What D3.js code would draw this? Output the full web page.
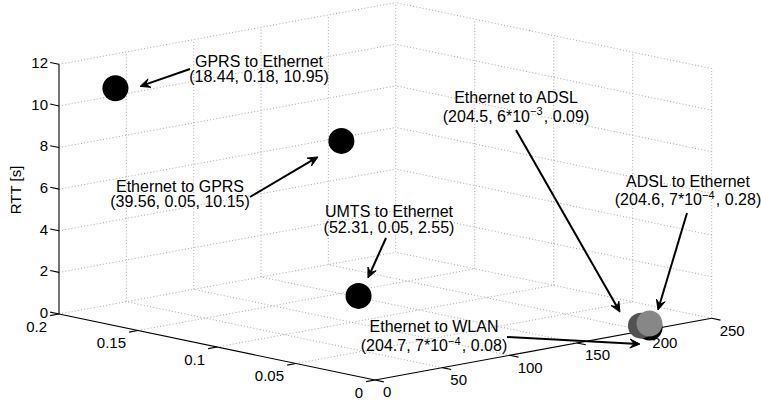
<!DOCTYPE html>
<html><head><meta charset="utf-8">
<script src="https://cdn.jsdelivr.net/npm/d3@7"></script>
<style>body{margin:0;background:#fff} text{font-family:"Liberation Sans",Arial,Helvetica,sans-serif;fill:#000}</style>
</head><body><svg id="c" width="761" height="403"></svg>
<script>
// ---- data ----
const xTicks = [0, 50, 100, 150, 200, 250];
const yTicks = [0, 0.05, 0.1, 0.15, 0.2];
const zTicks = [0, 2, 4, 6, 8, 10, 12];
const xTickLabels = ["0", "50", "100", "150", "200", "250"];
const yTickLabels = ["0", "0.05", "0.1", "0.15", "0.2"];
const zTickLabels = ["0", "2", "4", "6", "8", "10", "12"];
const zLabel = "RTT [s]";
const names = ["GPRS to Ethernet", "Ethernet to GPRS", "UMTS to Ethernet", "Ethernet to ADSL", "ADSL to Ethernet", "Ethernet to WLAN"];
const coordTexts = ["(18.44, 0.18, 10.95)", "(39.56, 0.05, 10.15)", "(52.31, 0.05, 2.55)", "(204.5, 6*10^{\u22123}, 0.09)", "(204.6, 7*10^{\u22124}, 0.28)", "(204.7, 7*10^{\u22124}, 0.08)"];
const xVals = [18.44, 39.56, 52.31, 204.5, 204.6, 204.7];
const yVals = [0.18, 0.055, 0.055, 0.006, 0.0007, 0.0007];
const zVals = [10.95, 10.15, 2.55, 0.09, 0.28, 0.08];
const markerColors = ["#000000", "#000000", "#000000", "#525252", "#878787", "#000000"];
const drawOrder = [5, 0, 1, 2, 3, 4];

// ---- layout ----
const O = [375, 380], EX = [336.7, -61.7], EY = [-316, -66], EZ = [0, -249.7];
const sx = d3.scaleLinear().domain([0, 250]).range([0, 1]);
const sy = d3.scaleLinear().domain([0, 0.2]).range([0, 1]);
const sz = d3.scaleLinear().domain([0, 12]).range([0, 1]);
function P(x, y, z) {
  const a = sx(x), b = sy(y), c = sz(z);
  return [O[0] + a * EX[0] + b * EY[0] + c * EZ[0], O[1] + a * EX[1] + b * EY[1] + c * EZ[1]];
}
function unit(v, s) { const l = Math.hypot(v[0], v[1]); return [v[0] / l * s, v[1] / l * s]; }
// annotation layout: text center x, baseline line1, baseline line2, arrow start, arrow tip offset from marker
const annot = [
  {cx: 259, b1: 66.5, b2: 82, from: [190, 69], off: [24.6, -1.8]},
  {cx: 180, b1: 191.5, b2: 207, from: [250, 197], off: [-23.4, 16]},
  {cx: 389, b1: 217, b2: 232.5, from: [386, 238], off: [9.4, -17.9]},
  {cx: 516, b1: 103, b2: 121.5, from: [516, 130], off: [-21, -13.6]},
  {cx: 688, b1: 187, b2: 205, from: [687, 213], off: [8.5, -13.4]},
  {cx: 434, b1: 332, b2: 351, from: [507, 337], off: [-9.6, 16.5]}
];

const svg = d3.select("#c");
const g = svg.append("g");
const line = (a, b) => g.append("line").attr("x1", a[0]).attr("y1", a[1]).attr("x2", b[0]).attr("y2", b[1]);
const grid = (a, b) => line(a, b).attr("stroke", "#a8a8a8").attr("stroke-width", 1).attr("stroke-dasharray", "1,2.2");

// grids: floor
xTicks.filter(x => x > 0).forEach(x => grid(P(x, 0, 0), P(x, 0.2, 0)));
yTicks.filter(y => y > 0).forEach(y => grid(P(0, y, 0), P(250, y, 0)));
// back wall y = 0.2
xTicks.filter(x => x > 0).forEach(x => grid(P(x, 0.2, 0), P(x, 0.2, 12)));
zTicks.filter(z => z > 0).forEach(z => grid(P(0, 0.2, z), P(250, 0.2, z)));
// right wall x = 250
yTicks.filter(y => y < 0.2).forEach(y => grid(P(250, y, 0), P(250, y, 12)));
zTicks.filter(z => z > 0).forEach(z => grid(P(250, 0, z), P(250, 0.2, z)));

// axes
const ax = (a, b) => line(a, b).attr("stroke", "#000").attr("stroke-width", 1.1);
ax(P(0, 0, 0), P(250, 0, 0));
ax(P(0, 0, 0), P(0, 0.2, 0));
ax(P(0, 0.2, 0), P(0, 0.2, 12));
const tl = 9;
const dX = unit([-EY[0], -EY[1]], tl), dY = unit([-EX[0], -EX[1]], tl), dZ = unit(EY, tl);
xTicks.forEach((x, i) => {
  const p = P(x, 0, 0);
  ax(p, [p[0] + dX[0], p[1] + dX[1]]);
  g.append("text").attr("x", p[0] + 8).attr("y", p[1] + 12).attr("dy", "0.35em").attr("font-size", 15).text(xTickLabels[i]);
});
yTicks.forEach((y, i) => {
  const p = P(0, y, 0);
  ax(p, [p[0] + dY[0], p[1] + dY[1]]);
  g.append("text").attr("x", p[0] - 12).attr("y", p[1] + 12.5).attr("dy", "0.35em").attr("text-anchor", "end").attr("font-size", 15).text(yTickLabels[i]);
});
zTicks.forEach((z, i) => {
  const p = P(0, 0.2, z);
  ax(p, [p[0] + dZ[0], p[1] + dZ[1]]);
  g.append("text").attr("x", p[0] - 11).attr("y", p[1] - 1.5).attr("dy", "0.35em").attr("text-anchor", "end").attr("font-size", 15).text(zTickLabels[i]);
});
g.append("text").attr("transform", "translate(21,190) rotate(-90)").attr("text-anchor", "middle").attr("font-size", 15).text(zLabel);

// markers
drawOrder.forEach(i => {
  const p = P(xVals[i], yVals[i], zVals[i]);
  g.append("circle").attr("cx", p[0]).attr("cy", p[1]).attr("r", 13).attr("fill", markerColors[i]);
});

// annotations
function addRich(sel, str) {
  const parts = str.split(/\^\{([^}]*)\}/);
  parts.forEach((s, k) => {
    if (k % 2 === 0) { if (s) sel.append("tspan").text(s); }
    else {
      sel.append("tspan").attr("font-size", 11).attr("dy", -6.5).text(s);
      sel.append("tspan").attr("dy", 6.5).text("\u200a");
    }
  });
}
annot.forEach((a, i) => {
  g.append("text").attr("x", a.cx).attr("y", a.b1).attr("text-anchor", "middle").attr("font-size", 16).text(names[i]);
  const t = g.append("text").attr("x", a.cx).attr("y", a.b2).attr("text-anchor", "middle").attr("font-size", 16);
  addRich(t, coordTexts[i]);
  const m = P(xVals[i], yVals[i], zVals[i]);
  const tip = [m[0] + a.off[0], m[1] + a.off[1]];
  const d = [tip[0] - a.from[0], tip[1] - a.from[1]];
  const L = Math.hypot(d[0], d[1]);
  const u = [d[0] / L, d[1] / L], n = [-u[1], u[0]];
  const hl = 10, hw = 4.5, notch = 6;
  const back = [tip[0] - u[0] * notch, tip[1] - u[1] * notch];
  line(a.from, back).attr("stroke", "#000").attr("stroke-width", 2);
  const c1 = [tip[0] - u[0] * hl + n[0] * hw, tip[1] - u[1] * hl + n[1] * hw];
  const c2 = [tip[0] - u[0] * hl - n[0] * hw, tip[1] - u[1] * hl - n[1] * hw];
  g.append("path").attr("d", `M${tip}L${c1}L${back}L${c2}Z`).attr("fill", "#000").attr("stroke", "#000").attr("stroke-width", 1).attr("stroke-linejoin", "miter");
});
</script></body></html>
